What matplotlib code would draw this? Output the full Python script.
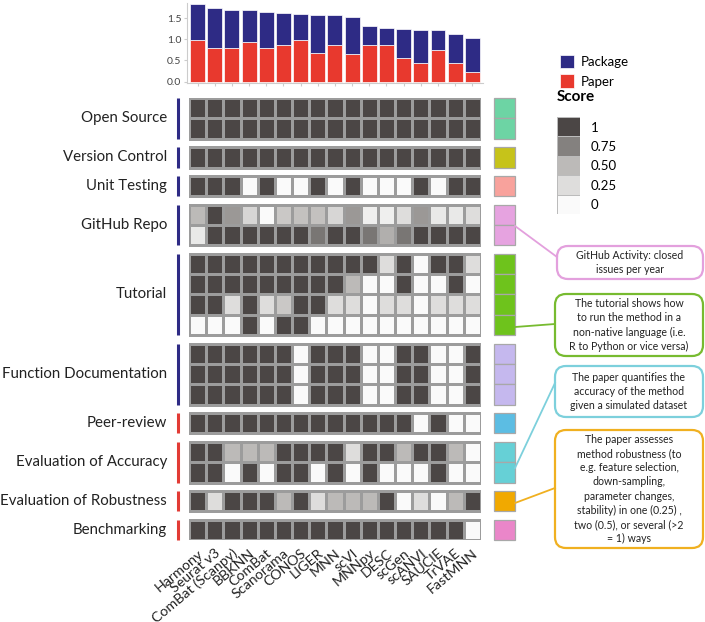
import numpy as np
import matplotlib.pyplot as plt
from matplotlib.colors import LinearSegmentedColormap
from matplotlib.patches import Rectangle, FancyBboxPatch

plt.rcParams['font.family'] = ['Lato', 'DejaVu Sans']

# --- data ---
methods = ['Harmony', 'Seurat v3', 'ComBat (Scanpy)', 'BBKNN', 'ComBat', 'Scanorama',
           'CONOS', 'LIGER', 'MNN', 'scVI', 'MNNpy', 'DESC', 'scGen', 'scANVI',
           'SAUCIE', 'TrVAE', 'FastMNN']
paper = [0.98, 0.80, 0.80, 0.93, 0.80, 0.86, 0.98, 0.68, 0.86, 0.65, 0.86, 0.86,
         0.55, 0.43, 0.74, 0.43, 0.24]
package = [0.85, 0.94, 0.89, 0.76, 0.84, 0.75, 0.61, 0.89, 0.71, 0.87, 0.46, 0.41,
           0.69, 0.79, 0.47, 0.69, 0.78]

open_source = [[1] * 17,
               [1] * 17]
version_control = [[1] * 17]
unit_testing = [[1, 1, 1, 0, 1, 0, 0, 1, 0, 1, 0, 0, 0, 1, 0, 1, 1]]
github_repo = [[0.5, 1, 0.65, 0.3, 0, 0.4, 0.45, 0.45, 0.3, 0.65, 0.1, 0.1, 0.25, 0.65, 0.15, 0.15, 0.25],
               [0.15, 1, 1, 1, 1, 1, 1, 0.8, 1, 1, 0.8, 0.55, 0.8, 1, 1, 1, 1]]
tutorial = [[1, 1, 1, 1, 1, 1, 1, 1, 1, 1, 1, 0.25, 1, 0, 1, 1, 0.25],
            [1, 1, 1, 1, 1, 1, 1, 1, 1, 0.5, 0, 0, 1, 0, 0, 1, 0],
            [1, 1, 0.25, 1, 0.25, 0.4, 1, 1, 0.25, 0.25, 0, 0.25, 0.25, 0, 0.25, 0.25, 0.25],
            [0, 0, 0, 1, 0, 1, 1, 0, 0, 0, 0, 0, 0, 0, 0, 0, 0]]
function_doc = [[1, 1, 1, 1, 1, 1, 0, 1, 1, 1, 0, 0, 1, 1, 0, 0, 1],
                [1, 1, 1, 1, 1, 1, 0, 1, 1, 1, 0, 0, 1, 1, 0, 0, 1],
                [1, 1, 1, 1, 1, 1, 0, 1, 1, 1, 0, 0, 1, 1, 0, 0, 1]]
peer_review = [[1, 1, 1, 1, 1, 1, 1, 1, 1, 1, 1, 1, 1, 0, 1, 0, 0]]
eval_accuracy = [[1, 1, 0.5, 0.5, 0.5, 1, 1, 1, 1, 0.25, 1, 1, 0.5, 1, 1, 0.5, 0],
                 [1, 1, 0, 1, 0, 1, 1, 0, 1, 0, 1, 0, 0, 0, 1, 0, 0]]
eval_robustness = [[1, 0.25, 1, 1, 1, 0.5, 1, 0.25, 0.5, 0.5, 0.5, 1, 0, 0.25, 0, 0.5, 1]]
benchmarking = [[1] * 16 + [0]]

group_names = ['Open Source', 'Version Control', 'Unit Testing', 'GitHub Repo', 'Tutorial',
               'Function Documentation', 'Peer-review', 'Evaluation of Accuracy',
               'Evaluation of Robustness', 'Benchmarking']
group_values = [open_source, version_control, unit_testing, github_repo, tutorial,
                function_doc, peer_review, eval_accuracy, eval_robustness, benchmarking]
side_colors = ['#6dd4a4', '#c6c31a', '#f8a29c', '#e6a3e0', '#6ec31c',
               '#c5b8ee', '#5cbde3', '#66d0d6', '#f1a900', '#ea86c9']
line_colors = ['#2e2b85'] * 6 + ['#e23b35'] * 4

score_levels = [1, 0.75, 0.5, 0.25, 0]
score_labels = ['1', '0.75', '0.50', '0.25', '0']

notes = [
    ('GitHub Activity: closed\nissues per year', '#e3a0dd'),
    ('The tutorial shows how\nto run the method in a\nnon-native language (i.e.\nR to Python or vice versa)', '#77bb30'),
    ('The paper quantifies the\naccuracy of the method\ngiven a simulated dataset', '#7dd0dc'),
    ('The paper assesses\nmethod robustness (to\ne.g. feature selection,\ndown-sampling,\nparameter changes,\n'
     'stability) in one (0.25) ,\ntwo (0.5), or several (>2\n= 1) ways', '#f0b020'),
]

navy = '#2e2b85'
red = '#e8392e'
edge = '#9c9c9c'
cmap = LinearSegmentedColormap.from_list(
    'score', [(0, '#fafafa'), (0.25, '#dedddc'), (0.5, '#bcbab8'), (0.75, '#858280'), (1, '#4b4645')])

W, H = 705, 622
fig = plt.figure(figsize=(W / 100, H / 100), dpi=100)


def px_box(l, t, r, b):
    return [l / W, 1 - b / H, (r - l) / W, (b - t) / H]


# --- top stacked bars ---
ax_b = fig.add_axes(px_box(186.9, 3, 483, 83))
x = np.arange(len(methods))
b_paper = ax_b.bar(x, paper, width=0.87, color=red, edgecolor='white', linewidth=0.5)
b_pkg = ax_b.bar(x, package, bottom=paper, width=0.87, color=navy, edgecolor='white', linewidth=0.5)
ax_b.set_xlim(-0.62, 16.62)
ax_b.set_ylim(-0.031, 1.856)
ax_b.set_yticks([0, 0.5, 1.0, 1.5])
ax_b.set_yticklabels(['0.0', '0.5', '1.0', '1.5'])
ax_b.set_xticks(x)
ax_b.set_xticklabels([])
ax_b.tick_params(length=2, color='#cccccc', labelsize=7.5, labelcolor='#444444', pad=2)
for s in ['top', 'right']:
    ax_b.spines[s].set_visible(False)
for s in ['left', 'bottom']:
    ax_b.spines[s].set_color('#cccccc')
fig.legend([b_pkg, b_paper], ['Package', 'Paper'], loc='upper left',
           bbox_to_anchor=(548 / W, 1 - 43 / H), frameon=False, fontsize=9.5,
           handlelength=1.1, handleheight=1.2, handletextpad=0.5, labelspacing=0.45)

# --- heatmap ---
ax_h = fig.add_axes(px_box(189, 98, 481, 540))
gap = 0.407
n_rows = sum(len(v) for v in group_values)
total = n_rows + gap * (len(group_values) - 1)
ax_h.set_xlim(-0.5, 16.5)
ax_h.set_ylim(total, 0)

y0 = 0
for name, vals, sc, lc in zip(group_names, group_values, side_colors, line_colors):
    n = len(vals)
    ax_h.pcolormesh(np.arange(18) - 0.5, np.arange(n + 1) + y0, np.array(vals, dtype=float),
                    cmap=cmap, vmin=0, vmax=1, edgecolors=edge, linewidth=0.9)
    ax_h.add_patch(Rectangle((-0.5, y0), 17, n, fill=False, ec=edge, lw=1.3))
    ax_h.bar(np.full(n, 17.87), np.ones(n), bottom=np.arange(n) + y0, width=1.22,
             color=sc, edgecolor='#a8a8a8', linewidth=0.9, clip_on=False)
    ax_h.plot([-1.14, -1.14], [y0, y0 + n], color=lc, lw=2.2, clip_on=False,
              solid_capstyle='butt')
    ax_h.text(-1.78, y0 + n / 2, name, ha='right', va='center', fontsize=10.8, color='#222222')
    y0 += n + gap

ax_h.set_xticks(x)
ax_h.set_xticklabels(methods, rotation=40, ha='right', rotation_mode='anchor', fontsize=10.3,
                     color='#222222')
ax_h.tick_params(length=0, pad=5)
ax_h.set_yticks([])
for s in ax_h.spines.values():
    s.set_visible(False)

# --- score legend ---
ax_s = fig.add_axes(px_box(557, 117, 580, 214))
ax_s.pcolormesh([0, 1], np.arange(len(score_levels) + 1), np.array(score_levels)[:, None],
                cmap=cmap, vmin=0, vmax=1, edgecolors='#bbbbbb', linewidth=0.6)
ax_s.set_ylim(len(score_levels), 0)
ax_s.set_xticks([])
ax_s.yaxis.tick_right()
ax_s.set_yticks(np.arange(len(score_levels)) + 0.5)
ax_s.set_yticklabels(score_labels)
ax_s.tick_params(length=0, labelsize=9.5, pad=8)
for s in ax_s.spines.values():
    s.set_visible(False)
fig.text(557 / W, 1 - 97 / H, 'Score', fontsize=11, fontweight='bold', va='center', ha='left')

# --- annotation boxes ---
ov = fig.add_axes([0, 0, 1, 1])
ov.set_xlim(0, W)
ov.set_ylim(H, 0)
ov.axis('off')
note_boxes = [(557, 246, 703, 279), (555, 294, 703, 356), (555, 366, 703, 417), (555, 430, 703, 548)]
links = [((515, 226), (557, 257)), ((515, 327), (555, 324)),
         ((515, 468), (555, 383)), ((515, 503), (555, 488))]
for (txt, c), (l, t, r, b), (p0, p1) in zip(notes, note_boxes, links):
    ov.plot([p0[0], p1[0]], [p0[1], p1[1]], color=c, lw=1.3)
    ov.add_patch(FancyBboxPatch((l, t), r - l, b - t, boxstyle='round,pad=0,rounding_size=11',
                                ec=c, fc='white', lw=1.6))
    ov.text((l + r) / 2, (t + b) / 2, txt, ha='center', va='center', fontsize=7.6,
            linespacing=1.35, color='#222222')

fig.savefig('out.png', dpi=100)
